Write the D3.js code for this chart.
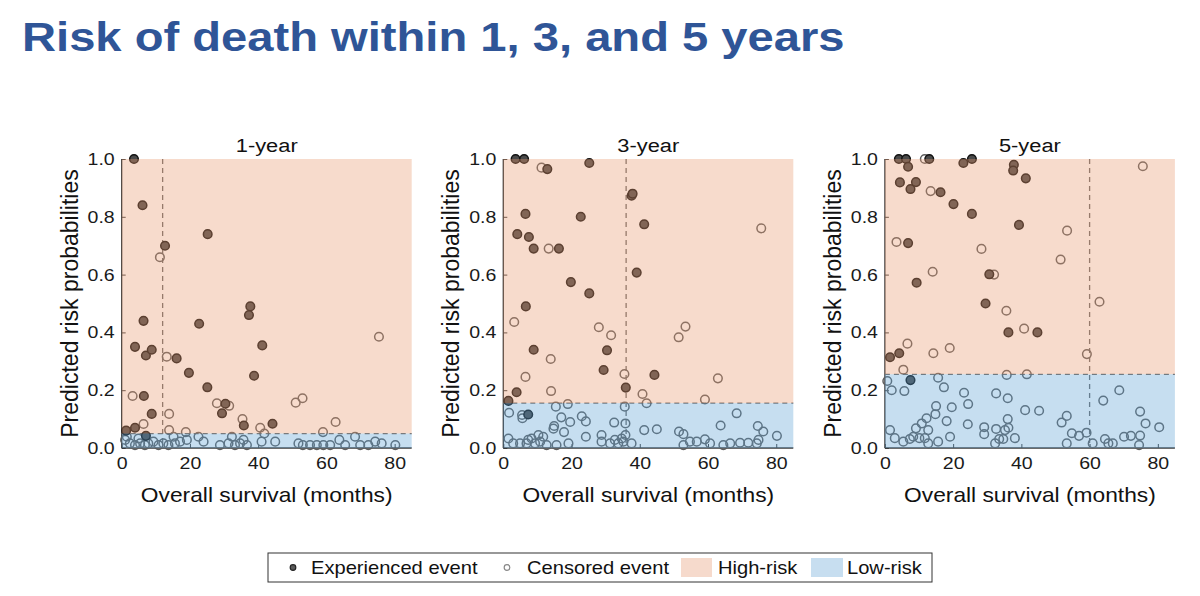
<!DOCTYPE html>
<html>
<head>
<meta charset="utf-8">
<script src="https://cdn.jsdelivr.net/npm/d3@7"></script>
<style>body{margin:0;background:#fff;}</style>
</head>
<body>
<div id="chart"></div>
<script>
// panel setup
var panelTitles = ["1-year", "3-year", "5-year"];
var cutMonths = [12, 36, 60];
var cutRisk = [0.05, 0.155, 0.255];
var xTicks = [0, 20, 40, 60, 80];
var yTicks = [0, 0.2, 0.4, 0.6, 0.8, 1.0];

// [months, predicted risk]
var ev1 = [[3.6,1.0],[6.1,0.84],[12.7,0.70],[25.2,0.74],[6.4,0.44],[22.7,0.43],[37.7,0.49],[37.3,0.46],
  [3.9,0.35],[7.1,0.32],[8.8,0.34],[16.1,0.31],[41.2,0.355],[19.7,0.26],[38.8,0.25],[25.1,0.21],[6.5,0.18],
  [30.4,0.153],[29.4,0.12],[8.8,0.118],[35.8,0.078],[44.2,0.084],[3.9,0.07],[1.3,0.06],[7.1,0.042]];
var cen1 = [[11.2,0.66],[13.2,0.316],[75.4,0.385],[3.2,0.18],[13.9,0.118],[27.9,0.155],[31.5,0.146],[51,0.157],
  [53,0.172],[35.4,0.10],[62.7,0.09],[6.4,0.083],[13.9,0.062],[40.6,0.07],[41.8,0.05],[18.8,0.055],[59,0.055],
  [1.0,0.028],[1.5,0.039],[2.4,0.016],[3.9,0.01],[4.9,0.033],[5.4,0.016],[6.8,0.01],[7.8,0.016],[9.3,0.022],
  [10.8,0.01],[12.2,0.016],[13.7,0.01],[15.2,0.039],[15.6,0.016],[17.1,0.022],[19.1,0.028],[22.5,0.039],
  [24,0.022],[28.8,0.01],[31.3,0.016],[32.3,0.039],[33.2,0.01],[34.7,0.016],[35.7,0.028],[36.7,0.01],
  [41,0.022],[45,0.022],[51.8,0.016],[53.1,0.01],[55.2,0.01],[57.2,0.01],[59.1,0.01],[61.1,0.01],[63.8,0.028],
  [65.5,0.01],[68.4,0.039],[69.9,0.01],[72.3,0.01],[74.3,0.022],[76.2,0.016],[80.2,0.01]];

var ev3 = [[3.6,1.0],[6.1,1.0],[12.9,0.965],[25.2,0.986],[37.6,0.873],[37.9,0.88],[6.5,0.81],[22.7,0.80],
  [41.3,0.774],[4.1,0.74],[7.5,0.73],[8.9,0.69],[16.3,0.69],[39.1,0.607],[19.8,0.574],[25.2,0.535],[6.6,0.49],
  [8.9,0.34],[30.4,0.338],[29.4,0.27],[44.3,0.253],[35.9,0.209],[3.9,0.193],[1.5,0.163],[7.3,0.116]];
var cen3 = [[11.2,0.97],[13.3,0.69],[75.6,0.76],[3.2,0.436],[28,0.418],[31.6,0.39],[51.4,0.383],[53.4,0.42],
  [13.9,0.308],[6.5,0.246],[35.5,0.256],[62.9,0.241],[14,0.197],[40.8,0.187],[59.1,0.168],[42,0.155],[18.9,0.152],
  [1.7,0.122],[5.5,0.114],[5.6,0.103],[15.4,0.143],[17,0.106],[19.6,0.09],[14.7,0.067],[14.9,0.076],[17.8,0.055],
  [23,0.11],[24.2,0.092],[24.2,0.039],[32.5,0.088],[35.8,0.085],[35.6,0.143],[35.8,0.045],[41.3,0.062],[45,0.065],
  [51.5,0.057],[52.8,0.048],[63.7,0.078],[68.4,0.12],[74.6,0.076],[76.2,0.057],[80.2,0.042],
  [1.5,0.033],[2.9,0.016],[4.9,0.016],[6.8,0.016],[7.3,0.028],[8.3,0.033],[9.3,0.016],[10.3,0.045],[10.8,0.022],
  [11.7,0.039],[12.7,0.01],[15.6,0.01],[19.1,0.016],[28.8,0.045],[28.8,0.022],[31.3,0.016],[32.7,0.028],
  [33.7,0.016],[34.7,0.033],[35.2,0.022],[37.6,0.016],[52.8,0.01],[54.7,0.022],[56.7,0.022],[59.1,0.03],
  [60.6,0.016],[64.5,0.01],[66.5,0.016],[69.4,0.018],[71.8,0.018],[74.3,0.016],[74.8,0.028]];

var ev5 = [[4.1,1.0],[6.2,1.0],[6.8,0.973],[13,1.0],[23,0.986],[25.5,1.0],[37.8,0.98],[37.6,0.96],[41.3,0.933],
  [4.4,0.919],[7.5,0.896],[9.1,0.92],[16.3,0.885],[20.1,0.844],[25.5,0.81],[39.3,0.772],[6.8,0.709],[9.3,0.572],
  [30.6,0.601],[29.5,0.50],[36.2,0.40],[44.7,0.40],[1.5,0.314],[4.2,0.328],[7.5,0.235]];
var cen5 = [[11.7,1.0],[75.6,0.975],[13.4,0.889],[3.4,0.713],[53.4,0.752],[28.3,0.689],[51.5,0.652],[14,0.61],
  [32,0.60],[62.9,0.506],[35.6,0.475],[40.8,0.413],[6.6,0.361],[19,0.346],[14.2,0.328],[59.2,0.325],[5.4,0.271],
  [0.7,0.232],[2.0,0.2],[5.7,0.197],[15.6,0.243],[17.3,0.21],[23.2,0.191],[24.4,0.152],[19.6,0.141],[15,0.145],
  [14.8,0.117],[18.1,0.093],[24.3,0.082],[12.2,0.103],[10.8,0.085],[9.1,0.068],[12.7,0.062],[1.5,0.062],
  [2.9,0.034],[5.4,0.022],[7.3,0.031],[8.3,0.039],[10.1,0.034],[11.7,0.034],[12.7,0.016],[15.6,0.022],[19.1,0.039],
  [29.1,0.072],[29.1,0.048],[32.6,0.066],[32.3,0.016],[33.5,0.031],[34.7,0.031],[35.2,0.062],[36.2,0.07],[36,0.1],
  [38.1,0.034],[32.6,0.189],[36,0.172],[35.7,0.253],[41.1,0.131],[41.6,0.255],[45.2,0.129],[53.3,0.111],
  [51.8,0.088],[54.8,0.051],[53.3,0.016],[56.9,0.042],[59.1,0.053],[60.9,0.016],[64,0.164],[68.7,0.2],[64.5,0.031],
  [65.5,0.016],[66.8,0.016],[70.1,0.039],[72.1,0.042],[74.8,0.043],[74.5,0.01],[74.8,0.126],[76.4,0.085],[80.4,0.072]];

var events = [ev1, ev3, ev5];
var censored = [cen1, cen3, cen5];

// the source picture is a little wider than tall, so text gets a horizontal stretch
var sx = 1.15;

var svg = d3.select("#chart").append("svg").attr("width", 1200).attr("height", 596)
    .style("font-family", "'Liberation Sans', Arial, sans-serif");

function label(parent, x, y, txt, size, anchor) {
    return parent.append("text")
        .attr("transform", "translate(" + x + "," + y + ") scale(" + sx + ",1)")
        .attr("text-anchor", anchor || "start").text(txt)
        .style("font-size", size + "px").attr("fill", "#111");
}

label(svg, 22, 51, "Risk of death within 1, 3, and 5 years", 41)
    .style("font-weight", "bold").attr("fill", "#2f5597");

var pw = 290, ph = 289, plotTop = 159;
var highCol = "rgb(232,152,109)", lowCol = "rgb(92,161,212)", shadeAlpha = 0.35;

panelTitles.forEach(function(t, i) {
    var x0 = 121.7 + i * 381.6;
    var g = svg.append("g").attr("transform", "translate(" + x0 + "," + plotTop + ")");
    var x = d3.scaleLinear().domain([0, 85]).range([0, pw]);
    var y = d3.scaleLinear().domain([0, 1]).range([ph, 0]);

    // axes (inward ticks)
    var xAxis = g.append("g").attr("transform", "translate(0," + ph + ")")
        .call(d3.axisBottom(x).tickValues(xTicks).tickSize(-4).tickPadding(9).tickFormat(d3.format("d")));
    var yAxis = g.append("g")
        .call(d3.axisLeft(y).tickValues(yTicks).tickSize(-4).tickPadding(7).tickFormat(d3.format(".1f")));
    [xAxis, yAxis].forEach(function(a) {
        a.select(".domain").attr("stroke", "#3a3a3a").attr("stroke-width", 1.3);
        a.selectAll(".tick line").attr("stroke", "#3a3a3a");
        a.selectAll("text").style("font-size", "17px").attr("fill", "#1a1a1a");
    });
    yAxis.select(".domain").attr("d", "M0," + ph + "V0");
    xAxis.select(".domain").attr("d", "M0,0H" + pw);
    // stretch tick labels like the rest of the text
    xAxis.selectAll(".tick text").attr("transform", "scale(" + sx + ",1)");
    yAxis.selectAll(".tick text").attr("transform", "translate(-7,0) scale(" + sx + ",1) translate(7,0)");

    // threshold lines
    g.append("line").attr("x1", x(cutMonths[i])).attr("x2", x(cutMonths[i])).attr("y1", y(1)).attr("y2", y(0))
        .attr("stroke", "#6a6a6a").attr("stroke-width", 1.3).attr("stroke-dasharray", "5,4");
    g.append("line").attr("x1", x(0)).attr("x2", x(85)).attr("y1", y(cutRisk[i])).attr("y2", y(cutRisk[i]))
        .attr("stroke", "#6a6a6a").attr("stroke-width", 1.3).attr("stroke-dasharray", "5,4");

    // points
    g.selectAll(".cen").data(censored[i]).enter().append("circle").attr("class", "cen")
        .attr("cx", function(d) { return x(d[0]); }).attr("cy", function(d) { return y(d[1]); })
        .attr("r", 4.3).attr("fill", "none").attr("stroke", "#5e5e5e").attr("stroke-width", 1.5);
    g.selectAll(".ev").data(events[i]).enter().append("circle").attr("class", "ev")
        .attr("cx", function(d) { return x(d[0]); }).attr("cy", function(d) { return y(d[1]); })
        .attr("r", 4.3).attr("fill", "#4a4a4a").attr("stroke", "#111").attr("stroke-width", 1.5);

    // risk shading on top (semi transparent)
    g.append("rect").attr("x", x(0)).attr("y", y(1)).attr("width", x(85) - x(0)).attr("height", y(cutRisk[i]) - y(1))
        .attr("fill", highCol).attr("opacity", shadeAlpha);
    g.append("rect").attr("x", x(0)).attr("y", y(cutRisk[i])).attr("width", x(85) - x(0)).attr("height", y(0) - y(cutRisk[i]))
        .attr("fill", lowCol).attr("opacity", shadeAlpha);

    // labels
    label(g, pw / 2, -7, t, 19, "middle");
    label(g, pw / 2, ph + 54, "Overall survival (months)", 19.8, "middle");
    g.append("text").attr("transform", "translate(-44," + (ph / 2) + ") rotate(-90)")
        .attr("text-anchor", "middle").text("Predicted risk probabilities")
        .style("font-size", "23px").attr("fill", "#111");
});

// legend
var lg = svg.append("g");
lg.append("rect").attr("x", 268).attr("y", 553).attr("width", 664).attr("height", 29)
    .attr("fill", "#fff").attr("stroke", "#333").attr("stroke-width", 1);
lg.append("circle").attr("cx", 293).attr("cy", 567.5).attr("r", 2.8).attr("fill", "#5a5a5a").attr("stroke", "#222").attr("stroke-width", 1.2);
label(lg, 311, 574, "Experienced event", 17.5);
lg.append("circle").attr("cx", 507).attr("cy", 567.5).attr("r", 2.8).attr("fill", "none").attr("stroke", "#888").attr("stroke-width", 1.2);
label(lg, 527, 574, "Censored event", 17.5);
lg.append("rect").attr("x", 681).attr("y", 558).attr("width", 31).attr("height", 19).attr("fill", "rgb(246,218,204)");
label(lg, 718, 574, "High-risk", 17.5);
lg.append("rect").attr("x", 811).attr("y", 558).attr("width", 32).attr("height", 19).attr("fill", "rgb(199,222,240)");
label(lg, 847, 574, "Low-risk", 17.5);
</script>
</body>
</html>
